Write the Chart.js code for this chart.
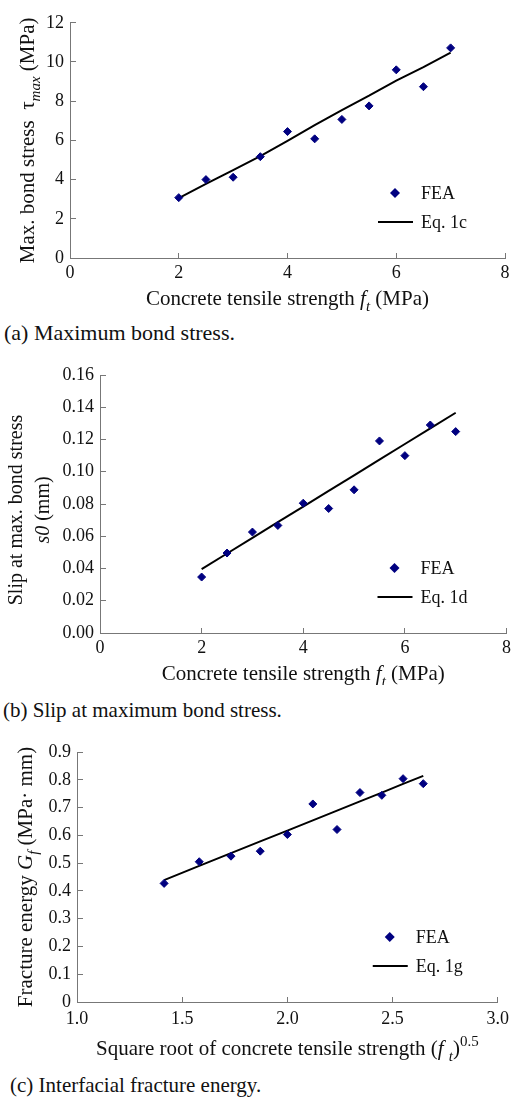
<!DOCTYPE html>
<html>
<head>
<meta charset="utf-8">
<script src="https://cdn.jsdelivr.net/npm/chart.js@4.4.1/dist/chart.umd.min.js"></script>
<style>
  body { margin: 0; background: #fff; }
  .page { position: relative; width: 520px; height: 1100px; font-family: "Liberation Serif", "Times New Roman", serif; color: #111; }
  .page canvas { position: absolute; left: 0; }
  .caption { position: absolute; font-size: 21px; line-height: 24px; white-space: nowrap; }
</style>
</head>
<body>
<div class="page">
  <canvas id="bondChart" width="520" height="318" style="top:0"></canvas>
  <div class="caption" style="left:4px; top:321px; font-size:22px">(a) Maximum bond stress.</div>
  <canvas id="slipChart" width="520" height="335" style="top:350px"></canvas>
  <div class="caption" style="left:3px; top:698px">(b) Slip at maximum bond stress.</div>
  <canvas id="energyChart" width="520" height="345" style="top:725px"></canvas>
  <div class="caption" style="left:10px; top:1073px">(c) Interfacial fracture energy.</div>
</div>
<script>
// values
const ftValues = [2, 2.5, 3, 3.5, 4, 4.5, 5, 5.5, 6, 6.5, 7];
const tauFea = [3.08, 4.0, 4.12, 5.17, 6.45, 6.08, 7.07, 7.76, 9.6, 8.74, 10.72];
const tauEq = [3.06, 3.78, 4.48, 5.2, 5.98, 6.78, 7.55, 8.28, 9.05, 9.74, 10.48];

const slipFea = [0.0347, 0.0496, 0.0626, 0.0667, 0.0805, 0.0772, 0.0888, 0.1191, 0.110, 0.129, 0.1249];
const slipEq = [0.0396, 0.0493, 0.059, 0.0687, 0.0784, 0.0881, 0.0978, 0.1075, 0.1172, 0.1269, 0.1366];

const sqrtFt = [1.414, 1.581, 1.732, 1.871, 2.0, 2.121, 2.236, 2.345, 2.449, 2.55, 2.646];
const energyFea = [0.427, 0.505, 0.525, 0.543, 0.603, 0.713, 0.621, 0.754, 0.744, 0.804, 0.786];
const energyEq = [0.439, 0.490, 0.536, 0.578, 0.617, 0.654, 0.689, 0.722, 0.754, 0.785, 0.814];

// tick values and labels
const ftTicks = [0, 2, 4, 6, 8];
const ftTickLabels = ["0", "2", "4", "6", "8"];
const tauTicks = [0, 2, 4, 6, 8, 10, 12];
const tauTickLabels = ["0", "2", "4", "6", "8", "10", "12"];
const slipTicks = [0, 0.02, 0.04, 0.06, 0.08, 0.10, 0.12, 0.14, 0.16];
const slipTickLabels = ["0.00", "0.02", "0.04", "0.06", "0.08", "0.10", "0.12", "0.14", "0.16"];
const sqrtTicks = [1.0, 1.5, 2.0, 2.5, 3.0];
const sqrtTickLabels = ["1.0", "1.5", "2.0", "2.5", "3.0"];
const energyTicks = [0, 0.1, 0.2, 0.3, 0.4, 0.5, 0.6, 0.7, 0.8, 0.9];
const energyTickLabels = ["0", "0.1", "0.2", "0.3", "0.4", "0.5", "0.6", "0.7", "0.8", "0.9"];

const FONT = '"Liberation Serif", "Times New Roman", serif';
const TEXT = "#111";
const AXIS = "#777";
const NAVY = "#000080";

function points(xs, ys) {
    return xs.map((x, i) => ({ x: x, y: ys[i] }));
}

// titles with italics / subscripts, drawn as runs of text
function runFont(r, size) {
    return (r.i ? "italic " : "") + (r.s ? Math.round(size * 0.7) : size) + "px " + FONT;
}

function drawRuns(ctx, runs, cx, y, size) {
    let w = 0;
    runs.forEach(r => { ctx.font = runFont(r, size); w += ctx.measureText(r.t).width; });
    let x = cx - w / 2;
    runs.forEach(r => {
        ctx.font = runFont(r, size);
        const dy = r.s === "sub" ? size * 0.27 : r.s === "sup" ? -size * 0.42 : 0;
        ctx.fillText(r.t, x, y + dy);
        x += ctx.measureText(r.t).width;
    });
}

const figureText = {
    id: "figureText",
    afterDraw(chart, args, opts) {
        const ctx = chart.ctx;
        const a = chart.chartArea;
        ctx.save();
        ctx.fillStyle = TEXT;
        ctx.textAlign = "left";
        ctx.textBaseline = "alphabetic";

        drawRuns(ctx, opts.xTitle, (a.left + a.right) / 2, opts.xTitleY, 21);

        ctx.save();
        ctx.translate(opts.yTitleX, (a.top + a.bottom) / 2 + (opts.yShift || 0));
        ctx.rotate(-Math.PI / 2);
        opts.yTitle.forEach((line, i) => drawRuns(ctx, line, 0, i * 27, opts.ySize));
        ctx.restore();

        // legend in the lower right of the plot
        const ds = chart.data.datasets;
        const tx = a.right - opts.legendX;
        const y1 = a.bottom - 65;
        const y2 = a.bottom - 36;
        const mx = tx - 26;
        ctx.fillStyle = NAVY;
        ctx.beginPath();
        ctx.moveTo(mx - 5, y1);
        ctx.lineTo(mx, y1 - 5);
        ctx.lineTo(mx + 5, y1);
        ctx.lineTo(mx, y1 + 5);
        ctx.closePath();
        ctx.fill();
        ctx.strokeStyle = "#000";
        ctx.lineWidth = 2;
        ctx.beginPath();
        ctx.moveTo(tx - 43, y2);
        ctx.lineTo(tx - 8, y2);
        ctx.stroke();
        ctx.fillStyle = TEXT;
        ctx.font = "18px " + FONT;
        ctx.fillText(ds[0].label, tx, y1 + 6);
        ctx.fillText(ds[1].label, tx, y2 + 6);
        ctx.restore();
    }
};

function axis(min, max, ticks, labels, size, pad, isX) {
    return {
        type: "linear",
        min: min,
        max: max,
        afterBuildTicks: s => { s.ticks = ticks.map(v => ({ value: v })); },
        afterFit: s => { if (isX) { s.height = size; } else { s.width = size; } },
        ticks: {
            callback: (v, i) => labels[i],
            color: TEXT,
            font: { family: FONT, size: 18 },
            padding: pad,
            maxRotation: 0,
            autoSkip: false
        },
        grid: { drawOnChartArea: false, tickLength: isX ? -5 : -6, color: AXIS, lineWidth: 1 },
        border: { color: AXIS, width: 1 }
    };
}

function makeChart(id, xs, fea, eq, eqLabel, xScale, yScale, padding, text) {
    return new Chart(document.getElementById(id), {
        type: "scatter",
        data: {
            datasets: [{
                label: "FEA",
                data: points(xs, fea),
                pointStyle: "rectRot",
                pointRadius: 4,
                borderWidth: 1,
                backgroundColor: NAVY,
                borderColor: NAVY
            }, {
                label: eqLabel,
                data: points(xs, eq),
                showLine: true,
                pointRadius: 0,
                borderColor: "#000",
                borderWidth: 2,
                tension: 0
            }]
        },
        options: {
            responsive: false,
            animation: false,
            events: [],
            layout: { padding: padding },
            scales: { x: xScale, y: yScale },
            plugins: {
                legend: { display: false },
                tooltip: { enabled: false },
                figureText: text
            }
        },
        plugins: [figureText]
    });
}

makeChart("bondChart", ftValues, tauFea, tauEq, "Eq. 1c",
    axis(0, 8, ftTicks, ftTickLabels, 28, 9, true),
    axis(0, 12, tauTicks, tauTickLabels, 70, 12, false),
    { top: 10, right: 15, bottom: 32, left: 0 },
    {
        xTitle: [{ t: "Concrete tensile strength " }, { t: "f", i: 1 }, { t: "t", i: 1, s: "sub" }, { t: " (MPa)" }],
        xTitleY: 305,
        yTitle: [[{ t: "Max. bond stress  " }, { t: "τ" }, { t: "max", i: 1, s: "sub" }, { t: " (MPa)" }]],
        yTitleX: 34,
        ySize: 21,
        legendX: 84
    });

makeChart("slipChart", ftValues, slipFea, slipEq, "Eq. 1d",
    axis(0, 8, ftTicks, ftTickLabels, 28, 9, true),
    axis(0, 0.16, slipTicks, slipTickLabels, 100, 12, false),
    { top: 25, right: 5, bottom: 24, left: 0 },
    {
        xTitle: [{ t: "Concrete tensile strength " }, { t: "f", i: 1 }, { t: "t", i: 1, s: "sub" }, { t: " (MPa)" }],
        xTitleY: 330,
        yTitle: [[{ t: "Slip at max. bond stress" }], [{ t: "s0", i: 1 }, { t: " (mm)" }]],
        yTitleX: 22,
        yShift: 6,
        ySize: 20,
        legendX: 86
    });

makeChart("energyChart", sqrtFt, energyFea, energyEq, "Eq. 1g",
    axis(1, 3, sqrtTicks, sqrtTickLabels, 28, 11, true),
    axis(0, 0.9, energyTicks, energyTickLabels, 77, 12, false),
    { top: 27, right: 20, bottom: 40, left: 0 },
    {
        xTitle: [{ t: "Square root of concrete tensile strength (" }, { t: "f ", i: 1 }, { t: "t", i: 1, s: "sub" }, { t: ")" }, { t: "0.5", s: "sup" }],
        xTitleY: 330,
        yTitle: [[{ t: "Fracture energy " }, { t: "G", i: 1 }, { t: "f", i: 1, s: "sub" }, { t: " (MPa· mm)" }]],
        yTitleX: 32,
        ySize: 21,
        legendX: 82
    });
</script>
</body>
</html>
